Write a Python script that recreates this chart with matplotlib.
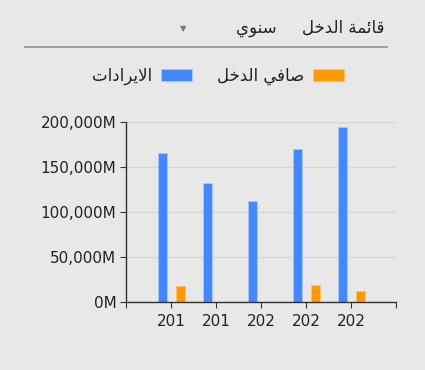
import matplotlib.pyplot as plt
from matplotlib.lines import Line2D
from matplotlib.ticker import FuncFormatter
import numpy as np

# Chart data (values in millions).
years = ["201", "201", "202", "202", "202"]
revenue = [165000, 131500, 112000, 170000, 194000]
net_income = [17500, 0, 0, 18500, 12000]

title_text = "قائمة الدخل"
period_text = "سنوي"
revenue_label = "الايرادات"
net_label = "صافي الدخل"

# Arabic presentation forms: isolated, final, initial, medial.
FORMS = {
    "ا": ("\ufe8d", "\ufe8e", None, None),
    "ئ": ("\ufe89", "\ufe8a", "\ufe8b", "\ufe8c"),
    "ة": ("\ufe93", "\ufe94", None, None),
    "ت": ("\ufe95", "\ufe96", "\ufe97", "\ufe98"),
    "خ": ("\ufea5", "\ufea6", "\ufea7", "\ufea8"),
    "د": ("\ufea9", "\ufeaa", None, None),
    "ر": ("\ufead", "\ufeae", None, None),
    "س": ("\ufeb1", "\ufeb2", "\ufeb3", "\ufeb4"),
    "ص": ("\ufeb9", "\ufeba", "\ufebb", "\ufebc"),
    "ف": ("\ufed1", "\ufed2", "\ufed3", "\ufed4"),
    "ق": ("\ufed5", "\ufed6", "\ufed7", "\ufed8"),
    "ل": ("\ufedd", "\ufede", "\ufedf", "\ufee0"),
    "م": ("\ufee1", "\ufee2", "\ufee3", "\ufee4"),
    "ن": ("\ufee5", "\ufee6", "\ufee7", "\ufee8"),
    "و": ("\ufeed", "\ufeee", None, None),
    "ي": ("\ufef1", "\ufef2", "\ufef3", "\ufef4"),
    "لا": ("\ufefb", "\ufefc", None, None),
}


def shape(text):
    # join letters, then reverse for left-to-right drawing
    units = []
    i = 0
    while i < len(text):
        if text[i] == "ل" and i + 1 < len(text) and text[i + 1] == "ا":
            units.append("لا")
            i += 2
        else:
            units.append(text[i])
            i += 1
    out = []
    for k, u in enumerate(units):
        if u not in FORMS:
            out.append(u)
            continue
        prev = units[k - 1] if k > 0 else None
        nxt = units[k + 1] if k + 1 < len(units) else None
        join_prev = prev in FORMS and FORMS[prev][2] is not None
        join_next = nxt in FORMS and FORMS[u][2] is not None
        iso, fin, ini, med = FORMS[u]
        if join_prev and join_next:
            out.append(med)
        elif join_prev:
            out.append(fin)
        elif join_next:
            out.append(ini)
        else:
            out.append(iso)
    return "".join(out)[::-1]


bg = "#e8e8e8"
txt = "#222222"
blue = "#4488ff"
orange = "#ff9900"

plt.rcParams["font.family"] = ["DejaVu Sans"]

fig = plt.figure(figsize=(4.25, 3.7), dpi=100, facecolor=bg)
ax = fig.add_axes([0.2965, 0.1846, 0.6353, 0.4865], facecolor=bg)

x = np.arange(1, len(years) + 1)
b1 = ax.bar(x - 0.19, revenue, width=0.2, color=blue, edgecolor="#a9c8ff", linewidth=0.6)
b2 = ax.bar(x + 0.22, net_income, width=0.2, color=orange, edgecolor="#ffc266", linewidth=0.6)

ax.set_xlim(0, 6)
ax.set_ylim(0, 200000)
ax.set_yticks([0, 50000, 100000, 150000, 200000])
ax.yaxis.set_major_formatter(FuncFormatter(lambda v, p: f"{int(v):,}M"))
ax.set_xticks(range(0, 7))
ax.set_xticklabels([""] + years + [""])
ax.grid(axis="y", color="#d6d6d6", linewidth=1)
ax.set_axisbelow(True)
for s in ["top", "right"]:
    ax.spines[s].set_visible(False)
for s in ["left", "bottom"]:
    ax.spines[s].set_color("#333333")
    ax.spines[s].set_linewidth(1)
ax.tick_params(axis="y", length=4, pad=3, labelsize=11, colors="#333333", labelcolor=txt)
ax.tick_params(axis="x", length=4, pad=5, labelsize=11, colors="#333333", labelcolor=txt)

# header
fig.text(384 / 425, 1 - 28 / 370, shape(title_text), ha="right", va="center", fontsize=12, color=txt)
fig.text(277 / 425, 1 - 28 / 370, shape(period_text), ha="right", va="center", fontsize=12, color=txt)
fig.text(183 / 425, 1 - 29 / 370, "▼", ha="center", va="center", fontsize=6, color="#777777")
fig.add_artist(Line2D([25 / 425, 387 / 425], [1 - 46.5 / 370] * 2, color="#9a9a9a", linewidth=1.3))

# legend, right-to-left
leg = fig.legend([b1, b2], [shape(revenue_label), shape(net_label)], loc="center",
                 bbox_to_anchor=(218 / 425, 1 - 76 / 370), ncol=2, frameon=False,
                 markerfirst=False, handlelength=1.85, handleheight=0.78,
                 handletextpad=0.55, columnspacing=1.5, fontsize=12)
for t in leg.get_texts():
    t.set_color(txt)

fig.savefig("out.png", dpi=100, facecolor=bg)
